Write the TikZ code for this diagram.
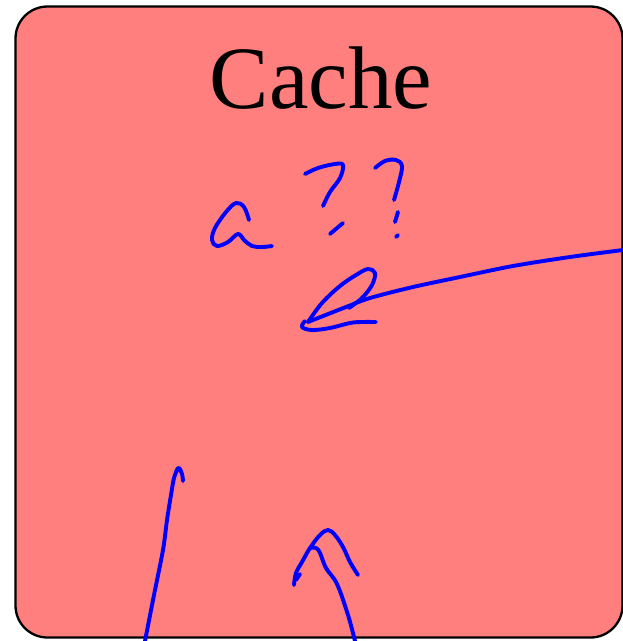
\documentclass[tikz,border=0pt]{standalone}
\usepackage{fontspec}
\setmainfont{Liberation Serif}
\definecolor{cachefill}{RGB}{255,127,127}
\definecolor{ink}{RGB}{0,0,255}
\begin{document}
\begin{tikzpicture}[x=1pt,y=-1pt,
  pen/.style={draw=ink,line width=3.9pt,line cap=round,line join=round},
  box/.style={draw=black,line width=2.3pt,fill=cachefill,rounded corners=32pt}]
\useasboundingbox (0,0) rectangle (623,641);
\path[box] (15.5,6.5) rectangle (622.5,637.5);
\node[anchor=base,inner sep=0pt,font=\fontsize{89}{100}\selectfont] (title) at (321,108) {Cache};
% "a"
\draw[pen] plot[smooth,tension=0.6] coordinates {(249,220) (244,207) (236,203) (226,212) (215,228) (212,240) (217,246) (228,242) (238,234) (244,240) (252,246) (262,247) (272,246)};
% first ?
\draw[pen] plot[smooth,tension=0.6] coordinates {(305,174) (318,168) (335,164) (343,165) (340,178) (330,192) (323,206)};
\draw[pen] (343,223) -- (330,234);
% second ?
\draw[pen] plot[smooth,tension=0.6] coordinates {(375,168) (385,161) (396,160) (402,166) (399,182) (394,200)};
\draw[pen] (398,212) -- (395,222);
\draw[pen] (398,235) -- (396,237);
% arrow from the right
\draw[pen] plot[smooth,tension=0.5] coordinates {(623,250) (570,257) (513,266) (460,277) (413,287) (370,298) (346,307) (308,322)};
\draw[pen] plot[smooth,tension=0.6] coordinates {(308,322) (322,303) (340,286) (356,275) (368,269) (375,273) (372,285) (362,298) (349,308)};
\draw[pen] plot[smooth,tension=0.6] coordinates {(305,321) (302,327) (312,330) (330,328) (350,323) (362,322) (376,322)};
% left bottom arrow
\draw[pen] plot[smooth,tension=0.5] coordinates {(145,641) (154,595) (163,550) (167,520) (171,495) (174,478) (178,468)};
\draw[pen] plot[smooth,tension=0.6] coordinates {(176,472) (179,468) (182,474) (183,481)};
% right bottom arrow
\draw[pen] plot[smooth,tension=0.6] coordinates {(355,641) (348,615) (337,584) (326,568) (320,553) (316,548) (310,548)};
\draw[pen] plot[smooth,tension=0.6] coordinates {(294,585) (296,573) (302,562) (310,548) (320,535) (328,530) (335,535) (343,547) (350,562) (358,575)};
\draw[pen] (300,574) -- (296,580);
\end{tikzpicture}
\end{document}
